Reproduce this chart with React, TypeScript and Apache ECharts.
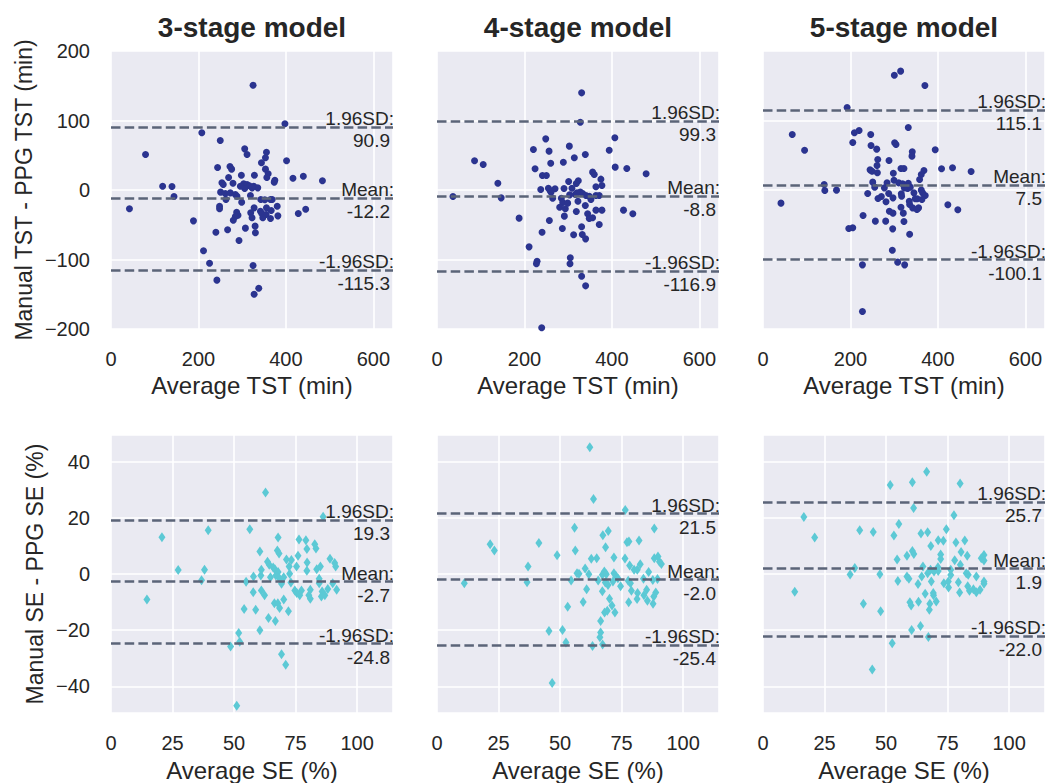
import React, { useEffect, useRef } from "react";
import * as echarts from "echarts";

// ---------- data ----------
const modelNames = ["3-stage model", "4-stage model", "5-stage model"];

const tstXTicks = [0, 200, 400, 600];
const tstYTicks = [-200, -100, 0, 100, 200];
const seXTicks = [0, 25, 50, 75, 100];
const seYTicks = [-40, -20, 0, 20, 40];

const tstMean = [-12.2, -8.8, 7.5];
const tstUpper = [90.9, 99.3, 115.1];
const tstLower = [-115.3, -116.9, -100.1];
const seMean = [-2.7, -2.0, 1.9];
const seUpper = [19.3, 21.5, 25.7];
const seLower = [-24.8, -25.4, -22.0];

const tst3X = [325.0, 397.8, 207.7, 249.9, 79.0, 305.8, 311.2, 355.6, 353.3, 344.1, 401.6, 243.8, 272.1, 275.9, 353.3, 298.2, 328.0, 359.5, 356.4, 269.0, 374.8, 373.3, 416.2, 439.9, 483.6, 118.1, 139.5, 144.1, 253.7, 256.8, 279.0, 303.5, 311.2, 316.6, 326.5, 335.7, 305.8, 250.7, 261.4, 272.9, 284.4, 288.2, 318.9, 262.9, 342.6, 351.8, 364.8, 368.7, 298.9, 42.2, 248.3, 248.3, 327.3, 355.6, 380.2, 445.3, 428.4, 341.8, 344.8, 354.9, 366.4, 381.7, 287.4, 290.5, 284.4, 279.7, 319.6, 322.6, 364.8, 188.6, 239.9, 266.7, 307.4, 329.6, 330.3, 292.8, 211.6, 225.4, 325.0, 242.2, 338.0, 327.3, 295.9, 322.7, 347.2];
const tst3Y = [150.8, 95.2, 82.3, 71.2, 51.1, 59.2, 51.1, 54.4, 46.3, 39.1, 42.0, 32.4, 33.8, 30.0, 30.0, 21.3, 21.3, 23.3, 18.0, 18.0, 14.1, 11.3, 17.0, 19.9, 13.2, 5.5, 5.0, -9.4, 10.3, 7.9, 9.8, 8.9, 7.9, 6.0, 5.5, 3.1, 2.2, -3.1, -5.0, -4.1, -6.5, -8.9, -7.9, -13.7, -13.7, -14.1, -13.7, -13.7, -17.5, -27.1, -23.3, -27.1, -25.7, -25.7, -23.3, -27.6, -33.8, -30.5, -33.8, -35.3, -29.5, -37.2, -31.9, -36.2, -38.1, -43.4, -32.9, -40.0, -41.0, -44.4, -60.7, -57.3, -54.9, -52.0, -61.6, -72.7, -87.5, -105.3, -108.6, -129.7, -141.3, -150.0, 5.5, 3.1, -40.0];

const tst4X = [330.8, 327.8, 406.8, 248.7, 220.5, 256.3, 302.7, 339.2, 393.9, 314.1, 289.0, 260.1, 85.9, 105.7, 224.3, 407.6, 434.2, 478.3, 355.9, 359.7, 241.1, 250.2, 374.9, 377.2, 363.5, 139.2, 301.1, 323.2, 318.6, 308.7, 237.3, 254.8, 258.6, 270.0, 290.5, 260.8, 36.5, 146.8, 316.3, 327.8, 333.1, 340.7, 348.3, 363.5, 371.1, 264.6, 284.4, 303.4, 322.4, 339.2, 287.5, 298.9, 280.6, 293.5, 363.5, 377.2, 426.6, 447.9, 318.6, 344.5, 348.3, 355.9, 291.3, 187.8, 257.0, 371.1, 286.7, 330.8, 240.3, 312.5, 332.3, 339.9, 210.6, 228.9, 227.4, 304.9, 304.2, 330.8, 339.9, 239.5, 320.2, 352.1];
const tst4Y = [139.8, 97.6, 75.1, 73.6, 58.3, 55.9, 63.1, 51.1, 57.3, 46.3, 40.0, 38.6, 42.0, 36.7, 30.5, 32.9, 30.9, 23.3, 25.7, 22.3, 20.9, 20.9, 15.6, 6.5, 4.6, 9.8, 12.2, 13.2, 9.4, 2.6, 0.7, 2.6, -0.7, 1.7, 2.2, -3.1, -9.4, -11.3, -6.5, -3.1, -5.0, -7.9, -8.9, -7.9, -7.9, -11.8, -11.8, -7.0, -16.1, -22.3, -18.0, -18.9, -24.7, -27.1, -29.0, -29.0, -29.0, -34.3, -30.9, -34.3, -41.0, -40.0, -37.6, -40.5, -43.9, -49.6, -55.4, -53.0, -60.7, -64.5, -64.0, -70.3, -81.8, -102.4, -106.2, -97.4, -106.0, -124.0, -137.9, -198.3, -4.1, -13.7];

const tst5X = [300.4, 314.8, 370.3, 192.4, 332.3, 209.1, 219.8, 66.9, 246.4, 205.3, 301.1, 304.2, 247.1, 260.1, 95.1, 341.4, 340.7, 393.9, 262.4, 288.2, 260.8, 244.9, 249.4, 261.6, 315.6, 322.4, 298.1, 368.1, 362.0, 358.2, 408.4, 433.5, 476.0, 139.9, 141.4, 168.1, 251.0, 255.5, 299.6, 283.7, 310.3, 319.4, 332.3, 277.6, 287.5, 239.5, 323.2, 330.8, 336.9, 345.2, 362.0, 365.0, 371.1, 316.3, 317.1, 297.3, 270.7, 263.1, 281.4, 348.3, 352.9, 363.5, 334.6, 335.4, 342.2, 355.9, 352.1, 315.6, 41.1, 422.8, 445.6, 289.0, 297.3, 320.9, 228.9, 257.0, 280.6, 322.4, 196.2, 205.3, 296.6, 335.4, 295.8, 227.4, 308.0, 324.0, 227.4];
const tst5Y = [165.2, 171.0, 150.4, 118.7, 89.9, 82.3, 85.6, 79.9, 79.9, 68.3, 67.9, 65.5, 64.0, 58.8, 57.3, 54.9, 48.7, 57.8, 43.9, 42.4, 35.3, 29.0, 27.1, 24.7, 30.9, 30.9, 24.2, 28.1, 22.3, 15.1, 30.5, 31.9, 26.6, 7.9, -0.7, -0.2, 11.3, 4.1, 14.1, 10.3, 10.3, 8.9, 9.8, 3.1, -5.0, -5.0, 3.1, 2.2, 4.1, -4.1, -0.2, -4.1, -7.9, -5.5, -8.9, -11.3, -9.4, -12.2, -17.0, -12.7, -12.7, -13.7, -16.1, -20.9, -25.7, -25.7, -28.1, -24.7, -18.9, -21.3, -28.5, -30.5, -33.3, -33.3, -36.7, -44.8, -44.8, -45.3, -55.4, -54.4, -55.9, -63.6, -86.6, -107.7, -103.8, -107.7, -174.8];

const se3X = [62.8, 86.2, 20.7, 39.5, 56.4, 67.9, 76.4, 79.2, 82.8, 79.6, 83.3, 60.5, 67.6, 68.3, 71.3, 73.3, 76.0, 79.7, 89.0, 90.9, 91.3, 63.6, 64.3, 65.9, 66.6, 67.9, 61.1, 60.9, 72.4, 75.4, 79.6, 83.6, 85.1, 27.3, 38.0, 36.8, 57.9, 54.9, 64.8, 68.5, 70.2, 73.1, 69.3, 84.6, 84.6, 90.1, 88.1, 91.7, 57.8, 61.1, 62.4, 74.7, 75.5, 77.4, 76.7, 81.0, 80.4, 81.0, 85.8, 85.5, 86.9, 14.6, 70.2, 66.4, 67.8, 68.5, 54.1, 58.8, 72.1, 64.0, 66.8, 60.5, 51.9, 52.3, 48.6, 69.3, 71.0, 51.1, 67.0, 72.6];
const se3Y = [29.0, 20.4, 13.1, 15.6, 15.9, 13.0, 12.3, 12.0, 10.6, 8.9, 9.1, 8.0, 8.4, 7.3, 5.2, 5.0, 6.5, 4.1, 5.4, 3.9, 2.7, 4.4, 3.3, 2.3, 1.7, 0.7, 1.5, -0.5, 2.7, 2.7, 1.2, 1.7, 2.7, 1.4, 1.5, -2.2, -0.9, -2.8, -1.2, -1.6, -1.2, -3.0, -3.5, -1.7, -3.3, -3.3, -5.3, -5.6, -6.5, -5.9, -7.6, -5.9, -6.8, -5.9, -7.6, -5.6, -7.6, -8.8, -6.2, -8.0, -7.6, -9.1, -9.1, -10.4, -10.4, -12.1, -12.5, -12.7, -13.3, -15.7, -16.7, -20.0, -21.0, -24.1, -25.8, -28.6, -32.3, -46.9, -0.5, 0.1];

const se4X = [62.1, 63.6, 76.5, 88.3, 55.9, 69.6, 67.4, 21.6, 23.3, 41.4, 56.2, 68.5, 77.2, 78.0, 82.1, 48.8, 62.7, 64.9, 71.9, 76.4, 88.3, 89.8, 90.4, 91.2, 37.0, 60.2, 61.7, 56.9, 57.7, 78.3, 80.1, 81.4, 82.6, 86.0, 68.0, 67.2, 68.8, 71.9, 72.7, 73.5, 71.5, 65.5, 68.4, 69.5, 11.1, 36.6, 54.5, 77.7, 78.6, 74.6, 83.9, 87.7, 89.6, 60.8, 67.2, 79.0, 81.5, 85.2, 88.9, 88.1, 70.1, 71.1, 59.4, 53.1, 77.9, 81.3, 84.1, 85.5, 87.8, 68.1, 69.2, 72.3, 66.5, 45.5, 51.0, 66.5, 66.2, 52.4, 63.2, 67.3, 46.8];
const se4Y = [45.1, 26.7, 22.8, 16.2, 16.5, 15.3, 13.8, 10.6, 8.4, 11.0, 8.4, 9.5, 11.3, 11.6, 11.9, 6.7, 5.4, 5.6, 5.9, 5.5, 5.6, 6.2, 4.4, 3.6, 2.7, 2.0, -0.1, 0.3, 0.1, 3.0, 1.5, 1.5, 3.5, 0.7, 0.9, -0.3, -0.1, 0.3, -0.7, -1.5, -2.7, -2.3, -3.0, -3.9, -3.3, -2.9, -2.3, -2.4, -3.3, -4.4, -1.7, -2.1, -1.8, -5.4, -6.1, -6.0, -6.8, -5.6, -6.6, -8.0, -8.8, -11.2, -10.0, -11.7, -10.1, -8.9, -7.6, -9.5, -10.6, -13.7, -13.1, -13.7, -16.7, -20.3, -19.9, -20.8, -22.5, -24.4, -25.6, -25.1, -38.8];

const se5X = [66.5, 60.7, 51.7, 80.1, 61.2, 16.6, 77.6, 55.2, 74.5, 39.3, 44.8, 64.2, 66.9, 21.0, 53.2, 71.2, 73.3, 78.4, 82.0, 68.2, 60.7, 61.3, 58.5, 54.5, 72.2, 72.2, 80.5, 83.0, 77.9, 80.2, 89.8, 88.7, 89.8, 65.0, 68.1, 69.5, 71.1, 71.2, 66.9, 37.3, 35.4, 47.5, 58.5, 59.3, 64.5, 68.4, 76.3, 76.3, 82.6, 83.4, 86.7, 12.9, 54.8, 63.0, 73.5, 75.4, 75.3, 79.4, 83.2, 83.9, 85.5, 86.7, 88.2, 89.8, 89.8, 79.9, 65.9, 69.2, 69.3, 70.4, 63.2, 59.7, 60.2, 67.8, 67.6, 40.8, 47.8, 60.4, 64.0, 67.2, 52.5, 44.4];
const se5Y = [36.4, 32.7, 31.7, 32.2, 23.5, 20.3, 20.9, 17.8, 15.9, 15.6, 15.0, 14.4, 14.9, 13.0, 13.7, 12.0, 11.8, 11.2, 11.9, 10.0, 8.2, 7.1, 6.5, 5.2, 6.9, 5.3, 7.8, 6.5, 4.9, 3.3, 6.8, 5.6, 4.8, 2.7, 1.5, 0.9, 2.4, 1.1, 0.3, 2.1, -0.2, -0.1, -0.9, -1.7, -0.9, -2.7, 1.5, -0.4, 0.3, -0.3, -0.9, -6.3, -2.5, -3.6, -3.3, -4.8, -2.7, -2.9, -4.4, -6.0, -5.4, -6.5, -5.6, -2.7, -3.5, -6.6, -7.0, -6.8, -7.6, -9.8, -9.9, -10.1, -11.2, -10.6, -12.7, -10.6, -13.3, -19.9, -18.5, -22.4, -24.7, -34.0];

// ---------- style ----------
const FONT = "'Liberation Sans', Arial, Helvetica, sans-serif";
const TEXT = "#262626";
const BG = "#EAEAF2";
const DASH = "#5b6478";
const NAVY = "#2b3490";
const CYAN = "#5cc9d5";

const colLeft = [111, 437, 763];
const plotW = 282;
const rowTop = [51, 435];
const plotH = 278;

const minus = (v: number) => String(v).replace("-", "\u2212");

export default function App() {
  const ref = useRef<HTMLDivElement>(null);

  useEffect(() => {
    document.body.style.margin = "0";
    if (!ref.current) return;
    const chart = echarts.init(ref.current, undefined, { renderer: "svg" });

    const panels = [
      { xs: tst3X, ys: tst3Y, row: 0, col: 0 },
      { xs: tst4X, ys: tst4Y, row: 0, col: 1 },
      { xs: tst5X, ys: tst5Y, row: 0, col: 2 },
      { xs: se3X, ys: se3Y, row: 1, col: 0 },
      { xs: se4X, ys: se4Y, row: 1, col: 1 },
      { xs: se5X, ys: se5Y, row: 1, col: 2 },
    ];

    const grid: any[] = [];
    const xAxis: any[] = [];
    const yAxis: any[] = [];
    const series: any[] = [];

    panels.forEach((p, i) => {
      const top = p.row === 0;
      grid.push({
        left: colLeft[p.col],
        top: rowTop[p.row],
        width: plotW,
        height: plotH,
        show: true,
        backgroundColor: BG,
        borderWidth: 0,
        containLabel: false,
      });
      const xTicks = top ? tstXTicks : seXTicks;
      const yTicks = top ? tstYTicks : seYTicks;
      xAxis.push({
        type: "value",
        gridIndex: i,
        min: 0,
        max: top ? 645 : 114.6,
        interval: xTicks[1] - xTicks[0],
        axisLine: { show: false },
        axisTick: { show: false },
        splitLine: { show: true, lineStyle: { color: "#ffffff", width: 1.6 } },
        axisLabel: {
          show: true,
          margin: 20,
          color: TEXT,
          fontSize: 20,
          fontFamily: FONT,
          showMaxLabel: false,
          formatter: (v: number) => (xTicks.includes(v) ? minus(v) : ""),
        },
        name: top ? "Average TST (min)" : "Average SE (%)",
        nameLocation: "middle",
        nameGap: top ? 44 : 45,
        nameTextStyle: { color: TEXT, fontSize: 24, fontFamily: FONT },
      });
      yAxis.push({
        type: "value",
        gridIndex: i,
        min: top ? -200 : -49.5,
        max: top ? 200 : 49.5,
        minInterval: yTicks[1] - yTicks[0],
        maxInterval: yTicks[1] - yTicks[0],
        axisLine: { show: false },
        axisTick: { show: false },
        splitLine: { show: true, lineStyle: { color: "#ffffff", width: 1.6 } },
        axisLabel: {
          show: p.col === 0,
          margin: 21,
          color: TEXT,
          fontSize: 20,
          fontFamily: FONT,
          formatter: (v: number) => (yTicks.includes(v) ? minus(v) : ""),
        },
        name: p.col === 0 ? (top ? "Manual TST - PPG TST (min)" : "Manual SE - PPG SE (%)") : "",
        nameLocation: "middle",
        nameGap: top ? 76 : 65,
        nameTextStyle: { color: TEXT, fontSize: 23, fontFamily: FONT },
      });

      const mean = top ? tstMean[p.col] : seMean[p.col];
      const up = top ? tstUpper[p.col] : seUpper[p.col];
      const lo = top ? tstLower[p.col] : seLower[p.col];
      const lineStyle = { color: DASH, width: 2.6, type: [9.5, 4.2] as any };
      const hidden = { color: "rgba(0,0,0,0)", width: 1, type: "solid" };
      const nameLabel = (txt: string) => ({
        show: true,
        position: "insideEndTop",
        formatter: txt,
        color: TEXT,
        fontSize: 19,
        fontFamily: FONT,
        distance: [-1, -1],
      });
      const valLabel = (v: number) => ({
        show: true,
        position: "insideEndBottom",
        formatter: v.toFixed(1),
        color: TEXT,
        fontSize: 19,
        fontFamily: FONT,
        distance: [3, 4],
      });
      const markData: any[] = [];
      [
        ["1.96SD:", up],
        ["Mean:", mean],
        ["-1.96SD:", lo],
      ].forEach(([n, v]) => {
        markData.push({ yAxis: v, lineStyle, label: nameLabel(n as string) });
        markData.push({ yAxis: v, lineStyle: hidden, label: valLabel(v as number) });
      });

      series.push({
        type: "scatter",
        xAxisIndex: i,
        yAxisIndex: i,
        data: p.xs.map((x, k) => [x, p.ys[k]]),
        symbol: top ? "circle" : "diamond",
        symbolSize: top ? 7 : [7, 10],
        itemStyle: { color: top ? NAVY : CYAN, opacity: 1 },
        silent: true,
        markLine: {
          silent: true,
          symbol: ["none", "none"],
          animation: false,
          data: markData,
        },
      });
    });

    const graphic = modelNames.map((t, c) => ({
      type: "text",
      x: colLeft[c] + plotW / 2,
      y: 27,
      style: {
        text: t,
        fill: TEXT,
        font: `bold 28px ${FONT}`,
        textAlign: "center",
        textVerticalAlign: "middle",
      },
    }));

    chart.setOption({
      animation: false,
      backgroundColor: "#ffffff",
      textStyle: { fontFamily: FONT },
      grid,
      xAxis,
      yAxis,
      series,
      graphic,
    });

    return () => chart.dispose();
  }, []);

  return <div ref={ref} style={{ width: 1048, height: 783 }} />;
}
